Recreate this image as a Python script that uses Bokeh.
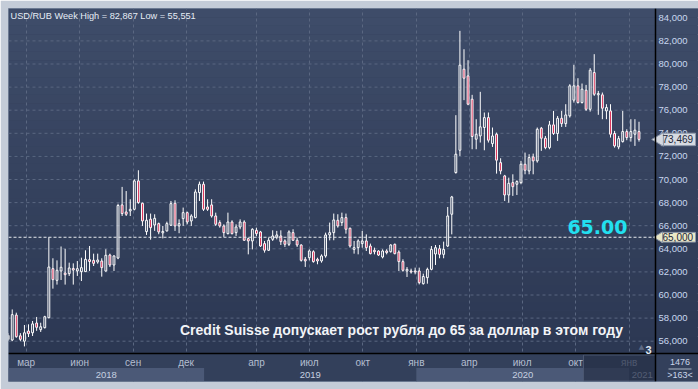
import numpy as np
import pandas as pd
from bokeh.plotting import figure
from bokeh.models import ColumnDataSource, Range1d, FixedTicker, Grid, Span, Label
from bokeh.core.properties import value
from bokeh.embed import file_html
from bokeh.resources import INLINE

# ---------------- data ----------------
title_text = "USD/RUB Week High = 82,867 Low = 55,551"
news_text = "Credit Suisse допускает рост рубля до 65 за доллар в этом году"
target_level = 65.0
target_text = "65.00"
target_tag = "65,000"
last_text = "73,469"
last_level = 73.469
first_week = "2018-01-29"

opens = [56.15, 56.1, 58.26, 56.47, 56.0, 56.88, 56.73, 57.57, 57.0, 57.17,
         58.03, 62.28, 61.27, 62.08, 61.9, 61.85, 62.3, 62.08, 62.02, 62.02,
         63.06, 63.0, 62.86, 62.94, 62.08, 63.46, 62.6, 63.2, 67.8, 67.19,
         67.28, 67.42, 69.88, 67.94, 65.49, 66.56, 66.06, 66.18, 65.38, 65.55,
         66.04, 67.94, 65.98, 66.61, 67.13, 66.41, 66.7, 68.87, 69.59, 67.62,
         67.8, 66.84, 66.27, 65.98, 65.31, 66.32, 65.4, 65.89, 66.32, 64.88,
         64.68, 65.6, 65.46, 64.45, 63.87, 64.82, 65.0, 65.11, 64.68, 64.39,
         65.4, 64.74, 64.33, 63.09, 63.23, 63.75, 63.09, 62.95, 63.38, 65.2,
         65.4, 66.47, 66.27, 66.7, 65.78, 63.95, 64.1, 64.45, 64.68, 64.24,
         63.87, 63.81, 63.29, 63.81, 63.75, 64.39, 63.72, 62.89, 62.08, 62.08,
         62.08, 62.08, 60.98, 61.5, 62.22, 63.55, 64.01, 63.52, 64.24, 66.99,
         70.6, 72.53, 79.55, 78.97, 76.95, 73.49, 73.77, 74.5, 75.36, 73.11,
         73.92, 71.46, 70.31, 68.66, 69.73, 69.59, 69.73, 71.32, 70.74, 71.96,
         71.61, 74.44, 73.57, 72.76, 74.73, 73.98, 75.3, 74.84, 75.51, 76.87,
         78.11, 76.66, 77.73, 76.08, 79.26, 77.33, 77.33, 75.94, 75.94, 73.98,
         72.82, 73.28, 74.15, 73.63, 73.92, 74.15]
highs = [56.7, 58.75, 58.47, 56.7, 57.4, 57.46, 57.75, 58.1, 57.6, 58.2,
         65.0, 63.18, 63.0, 64.2, 64.0, 62.8, 62.74, 62.94, 63.23, 63.87,
         64.24, 63.58, 63.58, 63.18, 63.96, 63.58, 63.44, 67.9, 69.36, 69.0,
         68.29, 70.02, 70.8, 68.0, 67.05, 67.05, 66.99, 66.27, 65.98, 66.35,
         68.14, 68.2, 66.55, 67.57, 67.22, 66.99, 69.15, 69.82, 69.82, 68.29,
         68.29, 67.13, 66.47, 66.12, 67.13, 66.47, 66.12, 66.55, 66.47, 64.97,
         65.78, 65.83, 65.55, 64.68, 64.97, 65.6, 65.55, 65.6, 64.82, 65.6,
         65.69, 64.97, 64.39, 63.29, 63.95, 63.87, 63.23, 63.52, 65.4, 66.27,
         67.05, 66.99, 67.13, 67.05, 65.83, 64.68, 64.82, 65.54, 65.25, 64.45,
         64.1, 63.87, 63.95, 63.96, 64.39, 64.45, 63.87, 63.09, 62.42, 62.28,
         62.37, 62.37, 61.85, 62.37, 64.24, 64.33, 64.33, 64.62, 67.62, 68.58,
         75.57, 82.87, 81.28, 80.33, 77.33, 75.22, 77.59, 75.8, 75.8, 74.5,
         74.06, 71.84, 70.4, 70.16, 70.45, 69.93, 71.61, 72.33, 72.19, 72.24,
         74.5, 74.55, 73.77, 75.07, 75.94, 75.5, 75.94, 76.52, 78.25, 79.93,
         78.77, 78.31, 78.19, 79.64, 80.85, 77.67, 77.53, 76.52, 76.52, 74.21,
         73.77, 75.94, 74.35, 75.22, 75.22, 75.0]
lows = [56.0, 56.0, 56.3, 56.0, 55.55, 56.36, 56.45, 56.9, 56.8, 57.1,
        57.98, 60.55, 60.9, 61.3, 60.9, 61.65, 60.9, 61.65, 61.21, 62.0,
        62.08, 62.51, 62.71, 61.59, 62.02, 62.42, 62.08, 63.1, 66.84, 66.84,
        66.84, 67.33, 67.9, 65.98, 65.2, 64.79, 65.55, 65.26, 64.9, 65.49,
        65.98, 65.55, 65.35, 65.98, 66.12, 65.98, 66.64, 68.14, 67.28, 67.28,
        66.7, 65.98, 65.83, 65.03, 65.25, 65.25, 65.11, 65.69, 64.68, 63.52,
        63.95, 65.11, 64.16, 63.67, 63.81, 64.68, 64.82, 64.33, 64.16, 64.24,
        64.68, 64.16, 62.89, 62.43, 63.0, 62.8, 62.66, 62.8, 63.23, 64.73,
        64.74, 65.83, 65.98, 65.31, 64.1, 63.58, 63.52, 64.1, 63.81, 63.52,
        63.52, 63.38, 63.17, 63.52, 63.67, 63.52, 62.08, 62.02, 61.56, 61.85,
        61.79, 60.92, 60.9, 60.98, 62.14, 62.6, 63.18, 63.18, 64.15, 65.25,
        70.51, 72.04, 76.87, 76.43, 72.62, 72.62, 73.2, 72.53, 73.2, 72.82,
        70.51, 70.45, 68.14, 67.99, 68.58, 68.66, 69.59, 70.45, 70.45, 70.45,
        71.46, 72.48, 72.62, 72.62, 73.86, 73.34, 74.55, 74.55, 75.36, 76.66,
        76.58, 76.58, 75.94, 75.88, 77.24, 75.6, 75.22, 75.22, 73.63, 72.76,
        72.62, 73.2, 73.4, 73.28, 72.91, 73.28]
closes = [56.5, 58.3, 56.39, 56.16, 56.73, 56.65, 57.5, 57.2, 57.25, 58.12,
          62.42, 61.33, 62.14, 62.4, 61.76, 62.34, 62.16, 62.28, 62.37, 63.09,
          62.9, 62.74, 63.03, 62.37, 63.44, 62.6, 63.38, 67.75, 67.05, 66.99,
          67.42, 69.88, 68.0, 66.41, 66.47, 65.83, 66.64, 65.46, 65.5, 66.18,
          67.91, 65.98, 66.18, 67.13, 66.32, 66.84, 68.92, 69.59, 67.42, 67.42,
          66.84, 66.12, 65.98, 65.4, 66.32, 65.31, 65.89, 66.32, 64.74, 64.68,
          65.69, 65.31, 64.24, 63.87, 64.74, 65.11, 65.2, 64.62, 64.39, 65.46,
          64.74, 64.33, 63.0, 62.95, 63.81, 62.89, 62.95, 63.38, 65.2, 65.4,
          66.5, 65.98, 66.7, 65.69, 64.24, 64.1, 64.68, 64.68, 64.1, 63.58,
          63.75, 63.46, 63.81, 63.67, 64.33, 63.58, 62.89, 62.14, 62.22, 61.99,
          61.99, 61.07, 61.6, 62.22, 63.95, 64.1, 63.52, 63.95, 66.84, 68.49,
          72.19, 79.9, 78.77, 76.52, 73.72, 73.92, 74.56, 75.36, 73.4, 73.77,
          71.67, 70.74, 68.66, 69.67, 69.38, 69.82, 71.32, 70.8, 71.9, 71.61,
          74.35, 73.57, 72.76, 74.73, 73.98, 75.3, 74.84, 75.59, 78.11, 78.11,
          76.66, 77.82, 76.08, 79.46, 77.38, 77.44, 76.17, 76.23, 73.92, 72.91,
          73.54, 74.15, 73.63, 74.15, 74.27, 73.47]

y_ticks = [56, 58, 60, 62, 64, 66, 68, 70, 72, 74, 76, 78, 80, 82, 84]
grid_y = [56, 58, 60, 62, 64, 66, 68, 70, 72, 74, 76, 78, 80, 82]
month_starts = ["2018-03-01", "2018-06-01", "2018-09-01", "2018-12-01",
                "2019-04-01", "2019-07-01", "2019-10-01", "2020-01-01",
                "2020-04-01", "2020-07-01", "2020-10-01", "2021-01-01"]
month_labels = ["мар", "июн", "сен", "дек", "апр", "июл", "окт", "янв",
                "апр", "июл", "окт", "янв"]
year_labels = ["2018", "2019", "2020", "2021"]
year_edges = ["2018-01-01", "2019-01-01", "2020-01-01", "2021-01-01", "2022-01-01"]
year_shaded = [True, False, True, False]
bar_total_label = "1476"
bar_visible_label = ">163<"
wave_label = "3"

# ---------------- layout helpers (pixel layout of the reference) ----------------
W, H = 698, 389
FL, FT, FB = 8, 8, 381        # frame left / top / bottom in page pixels (frame runs to the right edge)
CHART_R = 655                 # right edge of the candle pane
def val(py):                  # page y -> price value
    return 84 - (py - 17.3) / 11.55
WEEK = pd.Timedelta(days=7)
dates = pd.date_range(first_week, periods=len(closes), freq="7D")
def xdate(px):                # page x -> date
    return dates[0] + ((px - 28) / 4.07 + 5) * WEEK
def ms(t):
    return pd.Timestamp(t).value / 1e6
x_start, x_end, chart_end = xdate(FL), xdate(W), xdate(CHART_R)

p = figure(width=W, height=H, x_axis_type="datetime",
           x_range=Range1d(x_start, x_end), y_range=Range1d(val(FB), val(FT)),
           x_axis_location=None, y_axis_location=None,
           output_backend="svg", toolbar_location=None,
           min_border_left=FL, min_border_top=FT, min_border_bottom=H - FB,
           min_border_right=0,
           background_fill_color="#34415d", border_fill_color="#c4ccd8",
           outline_line_color="#7d8aa0")
p.center = [r for r in p.center if not isinstance(r, Grid)]

# background gradient
nb = 40
edges = np.linspace(val(353), val(FT), nb + 1)
c_top = np.array([0x3f, 0x4d, 0x6a]); c_bot = np.array([0x2c, 0x38, 0x53])
cols = ["#%02x%02x%02x" % tuple((c_bot + (c_top - c_bot) * ((k + 0.5) / nb)).astype(int))
        for k in range(nb)]
bg = p.quad(left=[x_start] * nb, right=[x_end] * nb, bottom=edges[:-1], top=edges[1:],
            fill_color=cols, line_color=None)
bg.level = "image"

# grids
grid_col = "#5a6781"
gx = Grid(dimension=0, ticker=FixedTicker(ticks=[ms(d) for d in month_starts]),
          grid_line_color=grid_col, grid_line_dash="3 3", grid_line_width=1)
p.add_layout(gx)
p.segment(x0=[x_start] * len(grid_y), x1=[chart_end] * len(grid_y), y0=grid_y, y1=grid_y,
          line_color=grid_col, line_dash="3 3", line_width=1)

# candles
df = pd.DataFrame(dict(date=dates, open=opens, high=highs, low=lows, close=closes))
df["top"] = df[["open", "close"]].max(axis=1)
df["bot"] = df[["open", "close"]].min(axis=1)
src_all = ColumnDataSource(df)
up = ColumnDataSource(df[df.close >= df.open])
dn = ColumnDataSource(df[df.close < df.open])
bw = 0.45 * 7 * 24 * 3600 * 1000
p.segment(x0="date", y0="high", x1="date", y1="top", source=src_all, line_color="white", line_width=1)
p.segment(x0="date", y0="bot", x1="date", y1="low", source=src_all, line_color="white", line_width=1)
p.vbar(x="date", width=bw, top="top", bottom="bot", source=up,
       fill_color=None, line_color="white", line_width=1)
p.vbar(x="date", width=bw, top="top", bottom="bot", source=dn,
       fill_color="#d5123f", line_color="white", line_width=1)

# target line
p.line(x=[x_start, chart_end], y=[target_level, target_level], line_color="#e8ebf0",
       line_dash="3 2", line_width=1)

# bottom time-axis strip
p.quad(left=[x_start], right=[x_end], bottom=[val(FB)], top=[val(353)],
       fill_color="#33405b", line_color=None)
ye = [min(max(pd.Timestamp(e), x_start), chart_end) for e in year_edges]
for k in range(len(year_labels)):
    if year_shaded[k]:
        p.quad(left=[ye[k]], right=[ye[k + 1]], bottom=[val(380.5)], top=[val(367.5)],
               fill_color="#4b5977", line_color=None)
year_mid = [ye[k] + (ye[k + 1] - ye[k]) / 2 for k in range(len(year_labels))]
p.text(x=year_mid, y=[val(374)] * len(year_labels), text=year_labels, text_color="#c6d0e0",
       text_font=value("Liberation Sans"), text_font_size=value("9.5px"),
       text_align="center", text_baseline="middle")
p.text(x=[pd.Timestamp(d) for d in month_starts], y=[val(362)] * len(month_starts),
       text=month_labels, text_color="#b3bed0", text_font=value("Liberation Sans"),
       text_font_size=value("10px"), text_align="center", text_baseline="middle")
p.quad(left=[xdate(583)], right=[chart_end], bottom=[val(380.5)], top=[val(354.5)],
       fill_color="#252f47", fill_alpha=0.72, line_color="#4a5670", line_width=1)

# right price scale pane
p.add_layout(Span(location=val(353), dimension="width", line_color="black", line_width=1.5))
p.add_layout(Span(location=ms(chart_end), dimension="height", line_color="black", line_width=1.5))
y_labels = [f"{t:.3f}".replace(".", ",") for t in y_ticks]
p.text(x=[xdate(658)] * len(y_ticks), y=y_ticks, text=y_labels, text_color="#c9d7ef",
       text_font=value("Liberation Sans"), text_font_size=value("9.5px"),
       text_align="left", text_baseline="middle")

def tag(text, level, half, bg):
    p.quad(left=[xdate(660.5)], right=[xdate(695)], bottom=[level - half], top=[level + half],
           fill_color=bg, line_color="#8d98aa", line_width=1)
    p.scatter(x=[xdate(659)], y=[level], marker="triangle", size=2 * half * 11.55 + 1,
              angle=np.pi / 2, fill_color=bg, line_color="#8d98aa", line_width=1)
    p.text(x=[xdate(662)], y=[level], text=[text], text_color="#1c2638",
           text_font=value("Liberation Sans"), text_font_size=value("10px"),
           text_align="left", text_baseline="middle")
tag(last_text, last_level, 0.54, "#d6dae1")
tag(target_tag, target_level, 0.42, "#ebe8c6")

p.text(x=[xdate(679.5)] * 2, y=[val(361.5), val(374)], text=[bar_total_label, bar_visible_label],
       text_color="#c9d5ea", text_font=value("Liberation Sans"), text_font_size=value("9px"),
       text_align="center", text_baseline="middle")
p.segment(x0=[xdate(668)], x1=[xdate(691)], y0=[val(368.5)], y1=[val(368.5)],
          line_color="#aab4c4", line_width=1)

# texts in the candle pane
def lab(text, X, Y, **kw):
    opts = dict(text_font="Liberation Sans", text_font_size="10px", text_color="#e4eaf4",
                text_align="left", text_baseline="middle")
    opts.update(kw)
    p.add_layout(Label(x=X - FL, y=FB - Y, x_units="screen", y_units="screen", text=text, **opts))

lab(title_text, 10, 15, text_font_size="9.2px", text_color="#e6ecf6")
lab(target_text, 627, 226, text_font="DejaVu Sans", text_font_style="bold",
    text_font_size="19px", text_color="#22e0f0", text_align="right", text_baseline="alphabetic")
lab(news_text, 401, 329, text_font="Liberation Sans", text_font_style="bold",
    text_font_size="14px", text_color="#f2f4f8", text_align="center")
lab("▲", 641, 346, text_font="DejaVu Sans", text_font_size="7px", text_color="#5e6a84",
    text_align="center")
lab(wave_label, 648, 349, text_font_size="11px", text_font_style="bold", text_color="#dfe6f0",
    text_align="center")

open("out.html", "w").write(file_html(p, INLINE))
